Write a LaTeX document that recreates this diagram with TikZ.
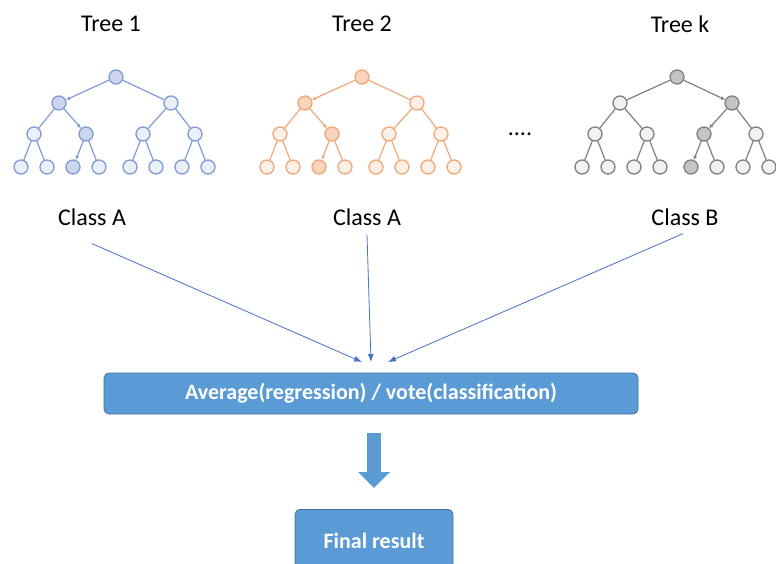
\documentclass[tikz,border=0pt]{standalone}
\usepackage{fontspec}
\setmainfont{Carlito}
\usetikzlibrary{arrows.meta}
\definecolor{blueline}{HTML}{7F9BD6}
\definecolor{bluelo}{HTML}{EAEFF8}
\definecolor{bluehl}{HTML}{CCD7EE}
\definecolor{orangeline}{HTML}{F0A878}
\definecolor{orangelo}{HTML}{FDF0E6}
\definecolor{orangehl}{HTML}{F8D5BC}
\definecolor{grayline}{HTML}{808080}
\definecolor{graylo}{HTML}{F2F2F2}
\definecolor{grayhl}{HTML}{C4C4C4}
\definecolor{boxfill}{HTML}{5B9BD5}
\definecolor{boxline}{HTML}{41719C}
\definecolor{voteline}{HTML}{4472C4}
\tikzset{
  tnode/.style={circle, line width=1.3pt, minimum size=14pt, inner sep=0pt},
  tedge/.style={line width=1.2pt},
  label/.style={font=\fontsize{24}{28}\selectfont, inner sep=0pt},
  vote/.style={voteline, line width=0.8pt, -{Latex[length=8pt,width=6pt]}},
  resbox/.style={rounded corners=5pt, fill=boxfill, draw=boxline, line width=0.8pt,
    text=white, font=\fontsize{22}{26}\selectfont\bfseries},
}
\makeatletter
\newcommand\drawtree[4]{%
  \foreach \i/\dx/\dy/\p in {1/0/0/0, 2/-57/26/1, 3/55/26/1,
      4/-82/57/2, 5/-30/57/2, 6/27/57/3, 7/79/57/3,
      8/-95/90/4, 9/-69/90/4, 10/-43/90/5, 11/-17/90/5,
      12/14/90/6, 13/40/90/6, 14/66/90/7, 15/92/90/7} {
    \edef\tcheck{\noexpand\in@{,\i,}{,#4,}}\tcheck
    \ifin@\def\thl{1}\edef\tfill{#3hl}\else\def\thl{0}\edef\tfill{#3lo}\fi
    \node[tnode, draw=#3line, fill=\tfill] (#1\i) at (#2+\dx,77+\dy) {};
    \ifnum\p>0
      \ifnum\thl=1
        \draw[tedge, #3line, -{Latex[length=4pt,width=4pt]}] (#1\p) -- (#1\i);
      \else
        \draw[tedge, #3line] (#1\p) -- (#1\i);
      \fi
    \fi
  }%
}
\makeatother
\begin{document}
\begin{tikzpicture}[x=1pt,y=-1pt]
\useasboundingbox (0,0) rectangle (776,563);
\clip (0,0) rectangle (776,563);
\node[label] (titlea) at (111,24) {Tree 1};
\node[label] (titleb) at (362,24) {Tree 2};
\node[label] (titlek) at (680,24) {Tree k};
\drawtree{a}{116}{blue}{1,2,5,10}
\drawtree{b}{362}{orange}{1,2,5,10}
\drawtree{k}{677}{gray}{1,3,6,12}
\node[label] (dots) at (520,134) {....};
\node[label] (classa) at (92,217) {Class A};
\node[label] (classb) at (367,217) {Class A};
\node[label] (classk) at (685,217) {Class B};
\node[resbox, minimum width=534pt, minimum height=41pt] (avg) at (371,393.5) {Average(regression) / vote(classification)};
\node[resbox, minimum width=158pt, minimum height=62pt, anchor=north] (final) at (374,509) {\raisebox{-11pt}{Final result}};
\coordinate (ina) at (362,362);
\coordinate (inb) at (371,362);
\coordinate (ink) at (388,362);
\draw[vote] ([yshift=-18pt]classa.south) -- (ina);
\draw[vote] ([yshift=-9pt]classb.south) -- (inb);
\draw[vote] ([yshift=-8pt,xshift=-2pt]classk.south) -- (ink);
\draw[boxfill, line width=14pt, -{Triangle[length=16pt,width=31pt]}, shorten <=19pt, shorten >=21pt]
  (final.north |- avg.south) -- (final.north);
\end{tikzpicture}
\end{document}
